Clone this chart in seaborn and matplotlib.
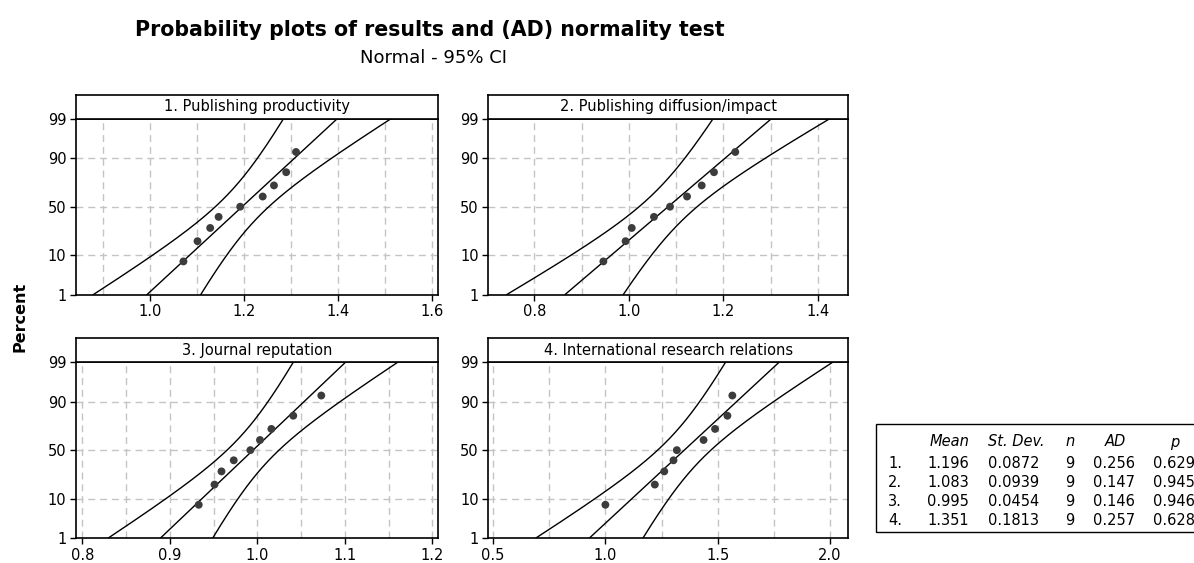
import numpy as np
import pandas as pd
import matplotlib
matplotlib.use("Agg")
import matplotlib.pyplot as plt
import seaborn as sns
from matplotlib.patches import Rectangle
from statistics import NormalDist

# ---------------- data ----------------
panel_titles = ["1. Publishing productivity", "2. Publishing diffusion/impact",
                "3. Journal reputation", "4. International research relations"]
vals_1 = [1.071, 1.101, 1.128, 1.146, 1.192, 1.240, 1.264, 1.290, 1.311]
vals_2 = [0.946, 0.993, 1.006, 1.053, 1.087, 1.123, 1.154, 1.180, 1.225]
vals_3 = [0.933, 0.951, 0.959, 0.973, 0.992, 1.003, 1.016, 1.041, 1.073]
vals_4 = [1.000, 1.220, 1.262, 1.303, 1.318, 1.437, 1.488, 1.543, 1.565]
percent_pos = [7.4, 18.1, 28.7, 39.4, 50.0, 60.6, 71.3, 81.9, 92.6]

means = [1.196, 1.083, 0.995, 1.351]
sds = [0.0872, 0.0939, 0.0454, 0.1813]
ns = [9, 9, 9, 9]
ads = [0.256, 0.147, 0.146, 0.257]
pvals = [0.629, 0.945, 0.946, 0.628]

y_ticks = [1, 10, 50, 90, 99]
x_major = [[1.0, 1.2, 1.4, 1.6], [0.8, 1.0, 1.2, 1.4],
           [0.8, 0.9, 1.0, 1.1, 1.2], [0.5, 1.0, 1.5, 2.0]]
x_grid = [[0.9, 1.0, 1.1, 1.2, 1.3, 1.4, 1.5, 1.6],
          [0.8, 0.9, 1.0, 1.1, 1.2, 1.3, 1.4],
          [0.8, 0.85, 0.9, 0.95, 1.0, 1.05, 1.1, 1.15, 1.2],
          [0.5, 0.75, 1.0, 1.25, 1.5, 1.75, 2.0]]
x_lims = [(0.842, 1.613), (0.7026, 1.4641), (0.7928, 1.206), (0.479, 2.081)]

all_vals = [vals_1, vals_2, vals_3, vals_4]

# ---------------- style ----------------
sns.set_style("white")
plt.rcParams["font.family"] = ["DejaVu Sans"]
for key in ["text.color", "axes.labelcolor", "xtick.color", "ytick.color",
            "axes.edgecolor"]:
    plt.rcParams[key] = "black"

W, H = 1194, 563
fig = plt.figure(figsize=(W / 100, H / 100), dpi=100)

def fx(px):
    return px / W

def fy(py):
    return 1 - py / H

nd = NormalDist()
z_lo, z_hi = nd.inv_cdf(0.01), nd.inv_cdf(0.99)
zgrid = np.linspace(z_lo, z_hi, 200)
zc = nd.inv_cdf(0.975)

# axes pixel boxes: (left, right, top_of_plot, bottom_of_plot, strip_top)
boxes = [(76, 437.7, 118.7, 294.7, 95.0),
         (488.3, 848.3, 118.7, 294.7, 95.0),
         (76, 437.7, 362.3, 538.0, 338.3),
         (488.3, 848.3, 362.3, 538.0, 338.3)]

grid_kw = dict(color="#c4c4c4", lw=1.0, linestyle=(0, (5, 3.5)), zorder=0.5)
fs = 10.5
for i in range(4):
    l, r, t, b, st = boxes[i]
    ax = fig.add_axes([fx(l), fy(b), fx(r - l), (b - t) / H])
    ax.set_axisbelow(True)
    ax.grid(False)
    # dashed grid
    for gx in x_grid[i]:
        ax.axvline(gx, **grid_kw)
    for gp in [10, 50, 90]:
        ax.axhline(nd.inv_cdf(gp / 100.0), **grid_kw)

    m, s, n = means[i], sds[i], ns[i]
    fit = m + zgrid * s
    half = zc * s * np.sqrt(1.0 / n + zgrid ** 2 / (2 * (n - 1)))
    for xs in [fit - half, fit, fit + half]:
        sns.lineplot(x=xs, y=zgrid, ax=ax, color="black", lw=1.0,
                     sort=False, estimator=None, legend=False)
    zp = [nd.inv_cdf(p / 100.0) for p in percent_pos]
    sns.scatterplot(x=all_vals[i], y=zp, ax=ax, color="#3c3c3c", s=32,
                    edgecolor="none", zorder=5, legend=False)

    ax.set_xlim(*x_lims[i])
    ax.set_ylim(z_lo, z_hi)
    ax.set_xticks(x_major[i])
    ax.set_xticklabels([f"{v:.1f}" for v in x_major[i]])
    ax.set_yticks([nd.inv_cdf(p / 100.0) for p in y_ticks])
    ax.set_yticklabels([str(p) for p in y_ticks])
    ax.set_xlabel("")
    ax.set_ylabel("")
    ax.tick_params(axis="both", which="major", direction="out", length=4,
                   width=1, color="black", labelsize=fs, pad=3,
                   left=True, bottom=True, labelcolor="black")
    for sp in ax.spines.values():
        sp.set_color("black")
        sp.set_linewidth(1.2)

    # strip
    sax = fig.add_axes([fx(l), fy(t), fx(r - l), (t - st) / H])
    sax.set_xticks([])
    sax.set_yticks([])
    sax.set_facecolor("white")
    for sp in sax.spines.values():
        sp.set_color("black")
        sp.set_linewidth(1.2)
    sax.text(0.5, 0.5, panel_titles[i], ha="center", va="center",
             fontsize=fs, color="black", transform=sax.transAxes)

# titles
fig.text(fx(430), fy(36), "Probability plots of results and (AD) normality test",
         ha="center", va="baseline", fontsize=14.8, fontweight="bold", color="black")
fig.text(fx(434), fy(63), "Normal - 95% CI", ha="center", va="baseline",
         fontsize=13, color="black")
fig.text(fx(20), fy(317), "Percent", rotation=90, ha="center", va="center",
         fontsize=11.5, fontweight="bold", color="black")

# table
rect = Rectangle((fx(876), fy(532)), fx(340), (532 - 424.3) / H,
                 transform=fig.transFigure, fill=False, ec="black", lw=1.0,
                 clip_on=False)
fig.patches.append(rect)
hy = 442
hdr = dict(va="center", style="italic", fontsize=fs, color="black")
fig.text(fx(969), fy(hy), "Mean", ha="right", **hdr)
fig.text(fx(988), fy(hy), "St. Dev.", ha="left", **hdr)
fig.text(fx(1070), fy(hy), "n", ha="center", **hdr)
fig.text(fx(1115), fy(hy), "AD", ha="center", **hdr)
fig.text(fx(1175), fy(hy), "p", ha="center", **hdr)
row_y = [463, 482.3, 501.6, 520.9]
cell = dict(va="center", fontsize=fs, color="black")
for j in range(4):
    y = fy(row_y[j])
    fig.text(fx(888), y, f"{j + 1}.", ha="left", **cell)
    fig.text(fx(969), y, f"{means[j]:.3f}", ha="right", **cell)
    fig.text(fx(988), y, f"{sds[j]:.4f}", ha="left", **cell)
    fig.text(fx(1070), y, f"{ns[j]}", ha="center", **cell)
    fig.text(fx(1093), y, f"{ads[j]:.3f}", ha="left", **cell)
    fig.text(fx(1153), y, f"{pvals[j]:.3f}", ha="left", **cell)

fig.savefig("out.png", dpi=100)
